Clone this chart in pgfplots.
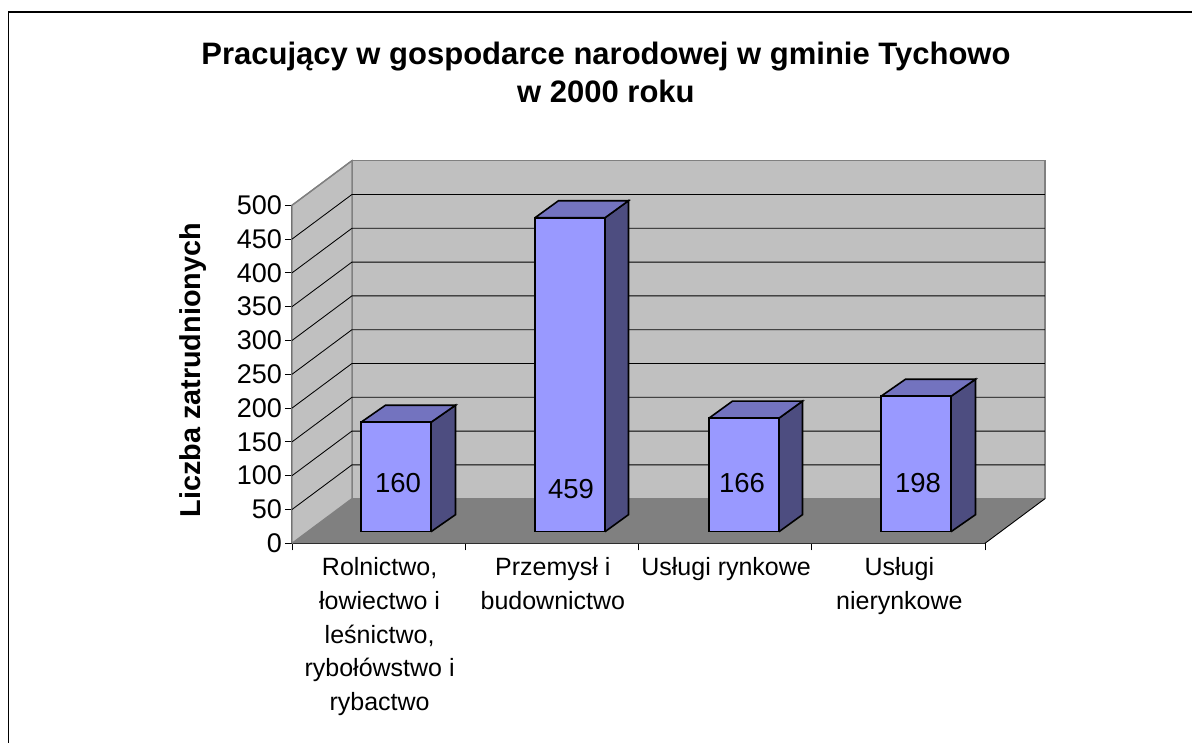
\documentclass[border=0pt]{standalone}
\usepackage{fontspec}
\setmainfont{Liberation Sans}
\usepackage{pgfplots}
\pgfplotsset{compat=1.18}
\definecolor{wall}{HTML}{C0C0C0}
\definecolor{floorc}{HTML}{808080}
\definecolor{front}{HTML}{9999FF}
\definecolor{topf}{HTML}{7373BF}
\definecolor{sidef}{HTML}{4D4D80}
\begin{document}
\begin{tikzpicture}
\useasboundingbox (0,0) rectangle (1192pt,743pt);
% outer frame: picture coordinates are pixels, y measured from the bottom
\draw[black,line width=1.5pt] (8.5pt,0pt) -- (8.5pt,731pt) -- (1192pt,731pt);
\begin{axis}[
  at={(292pt,199.7pt)}, anchor=south west,
  scale only axis, width=693pt, height=338pt,
  xmin=0, xmax=4, ymin=0, ymax=500,
  clip=false,
  axis x line*=bottom, axis y line*=left,
  axis line style={black,line width=1.1pt,-},
  y axis line style={draw=black!65},
  tick align=outside, tick pos=left,
  major tick length=7pt, minor tick length=7pt,
  tick style={black,line width=0.9pt},
  major x tick style={draw=none},
  xtick={0.5,1.5,2.5,3.5},
  minor xtick={0,1,2,3,4},
  xticklabels={{Rolnictwo,\\łowiectwo i\\leśnictwo,\\rybołówstwo i\\rybactwo},
               {Przemysł i\\budownictwo},{Usługi rynkowe},{Usługi\\nierynkowe}},
  xticklabel style={align=center,font=\fontsize{25}{33.6}\selectfont,anchor=north,yshift=-4pt,xshift=1pt},
  ytick={0,50,...,500},
  yticklabel style={font=\fontsize{27}{30}\selectfont,/pgf/number format/assume math mode=true,xshift=0.5pt},
  ylabel={Liczba zatrudnionych},
  ylabel style={at={(axis description cs:-0.143,0.512)},anchor=center,font=\bfseries\fontsize{28.8}{30}\selectfont},
  title={Pracujący w gospodarce narodowej w gminie Tychowo\\w 2000 roku},
  title style={at={(axis description cs:0.453,1.375)},anchor=center,align=center,font=\bfseries\fontsize{31}{38}\selectfont},
  unbounded coords=jump,
]
% back wall, left wall, floor
\addplot[fill=wall,draw=floorc,line width=1.6pt] coordinates {(0.346,66) (4.346,66) (4.346,566) (0.346,566) (0.346,66)};
\addplot[fill=wall,draw=floorc,line width=1.3pt] coordinates {(0,0) (0.346,66) (0.346,566) (0,500) (0,0)};
\addplot[fill=floorc,draw=none] coordinates {(0,0) (4,0) (4.346,66) (0.346,66) (0,0)};
\addplot[black,line width=0.9pt] coordinates {(4,0) (4.346,66)};
% gridlines
\addplot[black,line width=0.85pt] coordinates {
 (0,50) (0.346,116) (4.346,116) (nan,nan)
 (0,100) (0.346,166) (4.346,166) (nan,nan)
 (0,150) (0.346,216) (4.346,216) (nan,nan)
 (0,200) (0.346,266) (4.346,266) (nan,nan)
 (0,250) (0.346,316) (4.346,316) (nan,nan)
 (0,300) (0.346,366) (4.346,366) (nan,nan)
 (0,350) (0.346,416) (4.346,416) (nan,nan)
 (0,400) (0.346,466) (4.346,466) (nan,nan)
 (0,450) (0.346,516) (4.346,516)};
\addplot[floorc,line width=1.3pt] coordinates {(0,500) (0.346,566)};
\end{axis}
\begin{axis}[
  at={(292pt,211.3pt)}, anchor=south west,
  scale only axis, width=693pt, height=342pt,
  xmin=292, xmax=985, ymin=0, ymax=500,
  axis lines=none, clip=false,
]
% side and top faces of the bars (offset in depth, 24.9 units)
\addplot[fill=sidef,draw=black,line width=1.6pt] coordinates {(431,0) (455.5,24.9) (455.5,184.9) (431,160) (431,0)};
\addplot[fill=topf,draw=black,line width=1.6pt] coordinates {(361,160) (385.5,184.9) (455.5,184.9) (431,160) (361,160)};
\addplot[fill=sidef,draw=black,line width=1.6pt] coordinates {(605,0) (628.5,24.9) (628.5,483.9) (605,459) (605,0)};
\addplot[fill=topf,draw=black,line width=1.6pt] coordinates {(535,459) (558.5,483.9) (628.5,483.9) (605,459) (535,459)};
\addplot[fill=sidef,draw=black,line width=1.6pt] coordinates {(779,0) (802.5,24.9) (802.5,190.9) (779,166) (779,0)};
\addplot[fill=topf,draw=black,line width=1.6pt] coordinates {(709,166) (732.5,190.9) (802.5,190.9) (779,166) (709,166)};
\addplot[fill=sidef,draw=black,line width=1.6pt] coordinates {(951,0) (975.5,24.9) (975.5,222.9) (951,198) (951,0)};
\addplot[fill=topf,draw=black,line width=1.6pt] coordinates {(881,198) (905.5,222.9) (975.5,222.9) (951,198) (881,198)};
% front faces
\addplot[ybar,bar width=70pt,bar shift=0pt,fill=front,draw=black,line width=1.6pt]
  coordinates {(396,160) (570,459) (744,166) (916,198)};
% value labels
\addplot[draw=none,mark=none,nodes near coords,point meta=explicit symbolic,
  nodes near coords style={anchor=center,font=\fontsize{27.5}{30}\selectfont,text=black}]
  coordinates {(398,71)[160] (571,63)[459] (742,71)[166] (918,71)[198]};
\end{axis}
\end{tikzpicture}
\end{document}
